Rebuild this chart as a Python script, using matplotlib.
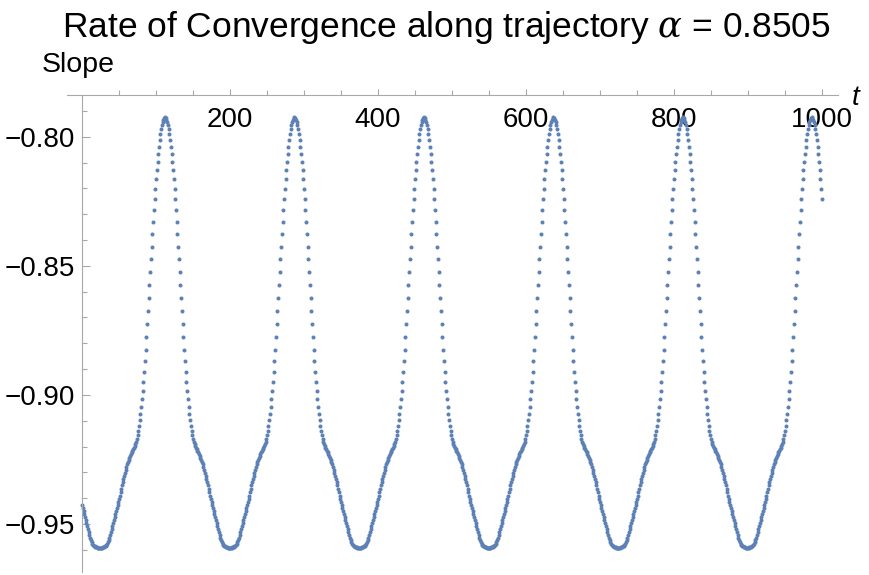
import numpy as np
import matplotlib.pyplot as plt

plt.rcParams['font.family'] = ['Liberation Sans', 'DejaVu Sans']
plt.rcParams['mathtext.fontset'] = 'dejavuserif'

# slope, stored as -slope * 1e4, one sample per unit of t
# t = 0 .. 112 (up to first peak)
seg0 = [9427, 9438, 9449, 9460, 9472, 9484, 9496,
        9507, 9518, 9530, 9542, 9553, 9563, 9571, 9577, 9581, 9585,
        9587, 9589, 9590, 9591, 9592, 9592, 9593, 9593,
        9593, 9592, 9592, 9591, 9590, 9589, 9587,
        9585, 9581, 9577, 9571, 9563, 9553, 9542, 9530, 9518, 9507,
        9496, 9484, 9472, 9460, 9449, 9438, 9427, 9414, 9402, 9390,
        9377, 9364, 9350, 9338, 9325, 9313, 9301, 9290, 9279, 9269,
        9259, 9251, 9243, 9236, 9229, 9223, 9217, 9211, 9205, 9198,
        9191, 9182, 9171, 9157, 9140, 9120, 9098, 9073, 9046, 9017,
        8985, 8950, 8912, 8870, 8825, 8775, 8725, 8675, 8625, 8575,
        8525, 8475, 8425, 8375, 8330, 8285, 8242, 8202, 8165, 8130,
        8098, 8068, 8040, 8014, 7991, 7971, 7955, 7942, 7933, 7927,
        7925]
# t = 113 .. 287
seg1 = [7927, 7933, 7942, 7955, 7971, 7991, 8014, 8040, 8068, 8098,
        8130, 8165, 8202, 8242, 8285, 8330, 8375, 8425, 8475, 8525,
        8575, 8625, 8675, 8725, 8775, 8825, 8870, 8912, 8950, 8985,
        9017, 9046, 9073, 9098, 9120, 9140, 9157, 9171, 9182, 9191,
        9198, 9205, 9211, 9217, 9223, 9229, 9236, 9243, 9251, 9259,
        9269, 9279, 9290, 9301, 9313, 9325, 9338, 9350, 9364, 9377,
        9390, 9402, 9414, 9427, 9438, 9449, 9460, 9472, 9484, 9496,
        9507, 9518, 9530, 9542, 9553, 9563, 9571, 9577, 9581, 9585,
        9587, 9589, 9590, 9591, 9592, 9592, 9593,
        9593, 9592, 9592, 9591, 9590, 9589, 9587,
        9585, 9581, 9577, 9571, 9563, 9553, 9542, 9530, 9518, 9507,
        9496, 9484, 9472, 9460, 9449, 9438, 9427, 9414, 9402, 9390,
        9377, 9364, 9350, 9338, 9325, 9313, 9301, 9290, 9279, 9269,
        9259, 9251, 9243, 9236, 9229, 9223, 9217, 9211, 9205, 9198,
        9191, 9182, 9171, 9157, 9140, 9120, 9098, 9073, 9046, 9017,
        8985, 8950, 8912, 8870, 8825, 8775, 8725, 8675, 8625, 8575,
        8525, 8475, 8425, 8375, 8330, 8285, 8242, 8202, 8165, 8130,
        8098, 8068, 8040, 8014, 7991, 7971, 7955, 7942, 7933, 7927,
        7925]
# t = 288 .. 462
seg2 = [7927, 7933, 7942, 7955, 7971, 7991, 8014, 8040, 8068, 8098,
        8130, 8165, 8202, 8242, 8285, 8330, 8375, 8425, 8475, 8525,
        8575, 8625, 8675, 8725, 8775, 8825, 8870, 8912, 8950, 8985,
        9017, 9046, 9073, 9098, 9120, 9140, 9157, 9171, 9182, 9191,
        9198, 9205, 9211, 9217, 9223, 9229, 9236, 9243, 9251, 9259,
        9269, 9279, 9290, 9301, 9313, 9325, 9338, 9350, 9364, 9377,
        9390, 9402, 9414, 9427, 9438, 9449, 9460, 9472, 9484, 9496,
        9507, 9518, 9530, 9542, 9553, 9563, 9571, 9577, 9581, 9585,
        9587, 9589, 9590, 9591, 9592, 9592, 9593,
        9593, 9592, 9592, 9591, 9590, 9589, 9587,
        9585, 9581, 9577, 9571, 9563, 9553, 9542, 9530, 9518, 9507,
        9496, 9484, 9472, 9460, 9449, 9438, 9427, 9414, 9402, 9390,
        9377, 9364, 9350, 9338, 9325, 9313, 9301, 9290, 9279, 9269,
        9259, 9251, 9243, 9236, 9229, 9223, 9217, 9211, 9205, 9198,
        9191, 9182, 9171, 9157, 9140, 9120, 9098, 9073, 9046, 9017,
        8985, 8950, 8912, 8870, 8825, 8775, 8725, 8675, 8625, 8575,
        8525, 8475, 8425, 8375, 8330, 8285, 8242, 8202, 8165, 8130,
        8098, 8068, 8040, 8014, 7991, 7971, 7955, 7942, 7933, 7927,
        7925]
# t = 463 .. 637
seg3 = [7927, 7933, 7942, 7955, 7971, 7991, 8014, 8040, 8068, 8098,
        8130, 8165, 8202, 8242, 8285, 8330, 8375, 8425, 8475, 8525,
        8575, 8625, 8675, 8725, 8775, 8825, 8870, 8912, 8950, 8985,
        9017, 9046, 9073, 9098, 9120, 9140, 9157, 9171, 9182, 9191,
        9198, 9205, 9211, 9217, 9223, 9229, 9236, 9243, 9251, 9259,
        9269, 9279, 9290, 9301, 9313, 9325, 9338, 9350, 9364, 9377,
        9390, 9402, 9414, 9427, 9438, 9449, 9460, 9472, 9484, 9496,
        9507, 9518, 9530, 9542, 9553, 9563, 9571, 9577, 9581, 9585,
        9587, 9589, 9590, 9591, 9592, 9592, 9593,
        9593, 9592, 9592, 9591, 9590, 9589, 9587,
        9585, 9581, 9577, 9571, 9563, 9553, 9542, 9530, 9518, 9507,
        9496, 9484, 9472, 9460, 9449, 9438, 9427, 9414, 9402, 9390,
        9377, 9364, 9350, 9338, 9325, 9313, 9301, 9290, 9279, 9269,
        9259, 9251, 9243, 9236, 9229, 9223, 9217, 9211, 9205, 9198,
        9191, 9182, 9171, 9157, 9140, 9120, 9098, 9073, 9046, 9017,
        8985, 8950, 8912, 8870, 8825, 8775, 8725, 8675, 8625, 8575,
        8525, 8475, 8425, 8375, 8330, 8285, 8242, 8202, 8165, 8130,
        8098, 8068, 8040, 8014, 7991, 7971, 7955, 7942, 7933, 7927,
        7925]
# t = 638 .. 812
seg4 = [7927, 7933, 7942, 7955, 7971, 7991, 8014, 8040, 8068, 8098,
        8130, 8165, 8202, 8242, 8285, 8330, 8375, 8425, 8475, 8525,
        8575, 8625, 8675, 8725, 8775, 8825, 8870, 8912, 8950, 8985,
        9017, 9046, 9073, 9098, 9120, 9140, 9157, 9171, 9182, 9191,
        9198, 9205, 9211, 9217, 9223, 9229, 9236, 9243, 9251, 9259,
        9269, 9279, 9290, 9301, 9313, 9325, 9338, 9350, 9364, 9377,
        9390, 9402, 9414, 9427, 9438, 9449, 9460, 9472, 9484, 9496,
        9507, 9518, 9530, 9542, 9553, 9563, 9571, 9577, 9581, 9585,
        9587, 9589, 9590, 9591, 9592, 9592, 9593,
        9593, 9592, 9592, 9591, 9590, 9589, 9587,
        9585, 9581, 9577, 9571, 9563, 9553, 9542, 9530, 9518, 9507,
        9496, 9484, 9472, 9460, 9449, 9438, 9427, 9414, 9402, 9390,
        9377, 9364, 9350, 9338, 9325, 9313, 9301, 9290, 9279, 9269,
        9259, 9251, 9243, 9236, 9229, 9223, 9217, 9211, 9205, 9198,
        9191, 9182, 9171, 9157, 9140, 9120, 9098, 9073, 9046, 9017,
        8985, 8950, 8912, 8870, 8825, 8775, 8725, 8675, 8625, 8575,
        8525, 8475, 8425, 8375, 8330, 8285, 8242, 8202, 8165, 8130,
        8098, 8068, 8040, 8014, 7991, 7971, 7955, 7942, 7933, 7927,
        7925]
# t = 813 .. 986
seg5 = [7927, 7933, 7942, 7955, 7971, 7991, 8014, 8040, 8068, 8098,
        8130, 8165, 8202, 8242, 8285, 8330, 8375, 8425, 8475, 8525,
        8575, 8625, 8675, 8725, 8775, 8825, 8870, 8912, 8950, 8985,
        9017, 9046, 9073, 9098, 9120, 9140, 9157, 9171, 9182, 9191,
        9198, 9205, 9211, 9217, 9223, 9229, 9236, 9243, 9251, 9259,
        9269, 9279, 9290, 9301, 9313, 9325, 9338, 9350, 9364, 9377,
        9390, 9402, 9414, 9427, 9438, 9449, 9460, 9472, 9484, 9496,
        9507, 9518, 9530, 9542, 9553, 9563, 9571, 9577, 9581, 9585,
        9587, 9589, 9590, 9591, 9592, 9592,
        9593,
        9592, 9592, 9591, 9590, 9589, 9587,
        9585, 9581, 9577, 9571, 9563, 9553, 9542, 9530, 9518, 9507,
        9496, 9484, 9472, 9460, 9449, 9438, 9427, 9414, 9402, 9390,
        9377, 9364, 9350, 9338, 9325, 9313, 9301, 9290, 9279, 9269,
        9259, 9251, 9243, 9236, 9229, 9223, 9217, 9211, 9205, 9198,
        9191, 9182, 9171, 9157, 9140, 9120, 9098, 9073, 9046, 9017,
        8985, 8950, 8912, 8870, 8825, 8775, 8725, 8675, 8625, 8575,
        8525, 8475, 8425, 8375, 8330, 8285, 8242, 8202, 8165, 8130,
        8098, 8068, 8040, 8014, 7991, 7971, 7955, 7942, 7933, 7927,
        7925]
# t = 987 .. 1000
seg6 = [7927, 7933, 7942, 7955, 7971, 7991, 8014, 8040, 8068, 8098,
        8130, 8165, 8202, 8242]

x_major = [200, 400, 600, 800, 1000]
x_minor = [50, 100, 150, 250, 300, 350, 450, 500, 550, 650, 700, 750,
           850, 900, 950]
y_major = [-0.95, -0.90, -0.85, -0.80]
y_minor = [-0.96, -0.94, -0.93, -0.92, -0.91, -0.89, -0.88, -0.87, -0.86,
           -0.84, -0.83, -0.82, -0.81, -0.79]

slope = -np.concatenate([seg0, seg1, seg2, seg3, seg4, seg5, seg6]) * 1e-4
t = np.arange(len(slope))

W, H = 869, 575
fig = plt.figure(figsize=(W / 100, H / 100), dpi=100)
ax = fig.add_axes([66.5 / W, 3 / H, 771 / W, 477 / H])

ax.plot(t, slope, 'o', ms=2.9, color='#5e81b5', mec='none', clip_on=False)

ax.set_xlim(-21, 1021)
ax.set_ylim(-0.9686, -0.7838)

axis_col = '#a8a8a8'
for s in ['top', 'right']:
    ax.spines[s].set_visible(False)
ax.spines['left'].set_position(('data', 0))
ax.spines['bottom'].set_position(('axes', 1.0))
for s in ['left', 'bottom']:
    ax.spines[s].set_color(axis_col)
    ax.spines[s].set_linewidth(0.8)

ax.set_xticks(x_major)
ax.set_xticklabels([str(v) for v in x_major])
ax.set_xticks(x_minor, minor=True)
ax.set_yticks(y_major)
ax.set_yticklabels([f"{v:.2f}".replace('-', '\u2212') for v in y_major])
ax.set_yticks(y_minor, minor=True)

ax.tick_params(axis='both', which='both', direction='in', color=axis_col,
               labelcolor='black', labelsize=20, width=0.8)
ax.tick_params(axis='x', which='major', length=4, pad=9)
ax.tick_params(axis='x', which='minor', length=3.5)
ax.tick_params(axis='y', which='major', length=6, pad=5)
ax.tick_params(axis='y', which='minor', length=3.6)

fig.text(446 / W, 1 - 37 / H,
         r'Rate of Convergence along trajectory $\alpha$ = 0.8505',
         ha='center', va='baseline', fontsize=25.5)
fig.text(42 / W, 1 - 72 / H, 'Slope', ha='left', va='baseline', fontsize=20.5)
fig.text(852 / W, 1 - 105 / H, 't', ha='left', va='baseline', fontsize=20,
         style='italic')

plt.savefig("out.png", dpi=100)
plt.close(fig)
